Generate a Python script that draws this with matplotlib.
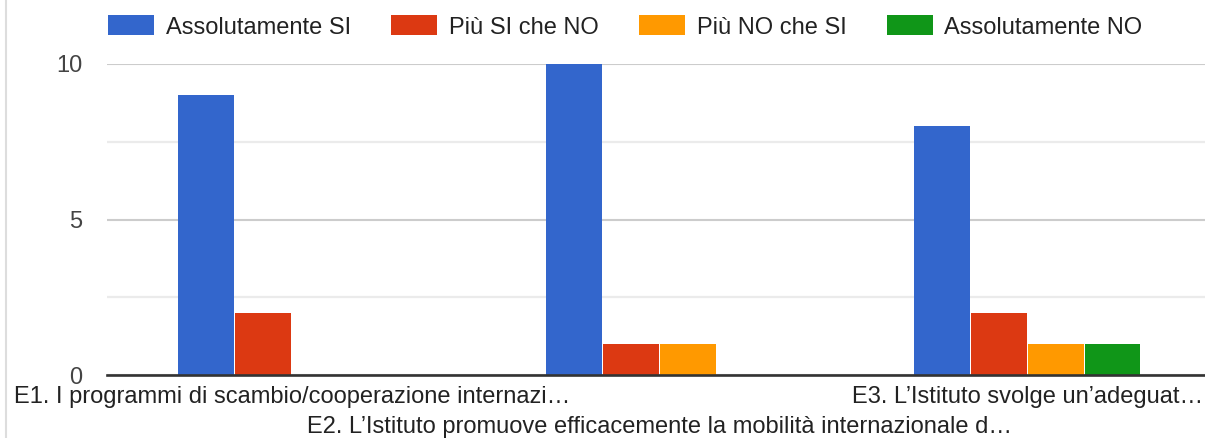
import numpy as np
import matplotlib
matplotlib.use('Agg')
import matplotlib.pyplot as plt
from matplotlib.lines import Line2D

plt.rcParams['font.family'] = ['Liberation Sans', 'DejaVu Sans']

# ── data ───────────────────────────────────────────────────────────
questions = [
    'E1. I programmi di scambio/cooperazione internazi…',
    'E2. L’Istituto promuove efficacemente la mobilità internazionale d…',
    'E3. L’Istituto svolge un’adeguat…',
]
series = ['Assolutamente SI', 'Più SI che NO', 'Più NO che SI', 'Assolutamente NO']
values = [
    [9, 10, 8],   # Assolutamente SI
    [2, 1, 2],    # Più SI che NO
    [0, 1, 1],    # Più NO che SI
    [0, 0, 1],    # Assolutamente NO
]
colors = ['#3366cc', '#dc3912', '#ff9900', '#109618']

# ── figure ─────────────────────────────────────────────────────────
W, H = 1205, 438
fig = plt.figure(figsize=(W / 100, H / 100), dpi=100)
ax = fig.add_axes([107 / W, 63 / H, 1 - 107 / W, 311 / H])

x = np.arange(len(questions))
pitch, bw = 0.155, 0.152
for i, (nm, vals, c) in enumerate(zip(series, values, colors)):
    ax.bar(x + (i - 1.5) * pitch, vals, width=bw, color=c, label=nm,
           zorder=3, linewidth=0)

ax.set_xlim(-0.503, 2.484)
ax.set_ylim(0, 10)
ax.set_yticks([0, 5, 10])
ax.set_yticks([2.5, 7.5], minor=True)
ax.set_yticklabels(['0', '5', '10'])
ax.grid(axis='y', which='major', color='#cccccc', lw=1.5, zorder=1)
ax.grid(axis='y', which='minor', color='#ebebeb', lw=1.6, zorder=1)
ax.axhline(0, color='#333333', lw=1.9, zorder=4, clip_on=False)

# staggered category labels: odd ones drop to a second row
ax.set_xticks(x)
ax.set_xticklabels([q if i % 2 == 0 else '' for i, q in enumerate(questions)])
for i, q in enumerate(questions):
    if i % 2 == 1:
        ax.annotate(q, xy=(x[i], 0), xycoords=('data', 'axes fraction'),
                    xytext=(0, -29.8), textcoords='offset points',
                    ha='center', va='top', fontsize=17, color='#222222')
ax.tick_params(axis='x', length=0, pad=8, labelsize=17, labelcolor='#222222')
ax.tick_params(axis='y', which='both', length=0, pad=18, labelsize=17,
               labelcolor='#444444')
for s in ax.spines.values():
    s.set_visible(False)

leg = ax.legend(ncol=4, loc='center left', frameon=False,
                bbox_to_anchor=(108 / W, 1 - 27 / H),
                bbox_transform=fig.transFigure,
                fontsize=17, handlelength=1.95, handleheight=0.93,
                handletextpad=0.5, columnspacing=1.7,
                borderpad=0, borderaxespad=0)
for t in leg.get_texts():
    t.set_color('#222222')

# light frame edge on the left
fig.add_artist(Line2D([6 / W, 6 / W], [0, 1], transform=fig.transFigure,
                      color='#dddddd', lw=1.5))

fig.savefig('out.png', dpi=100)
